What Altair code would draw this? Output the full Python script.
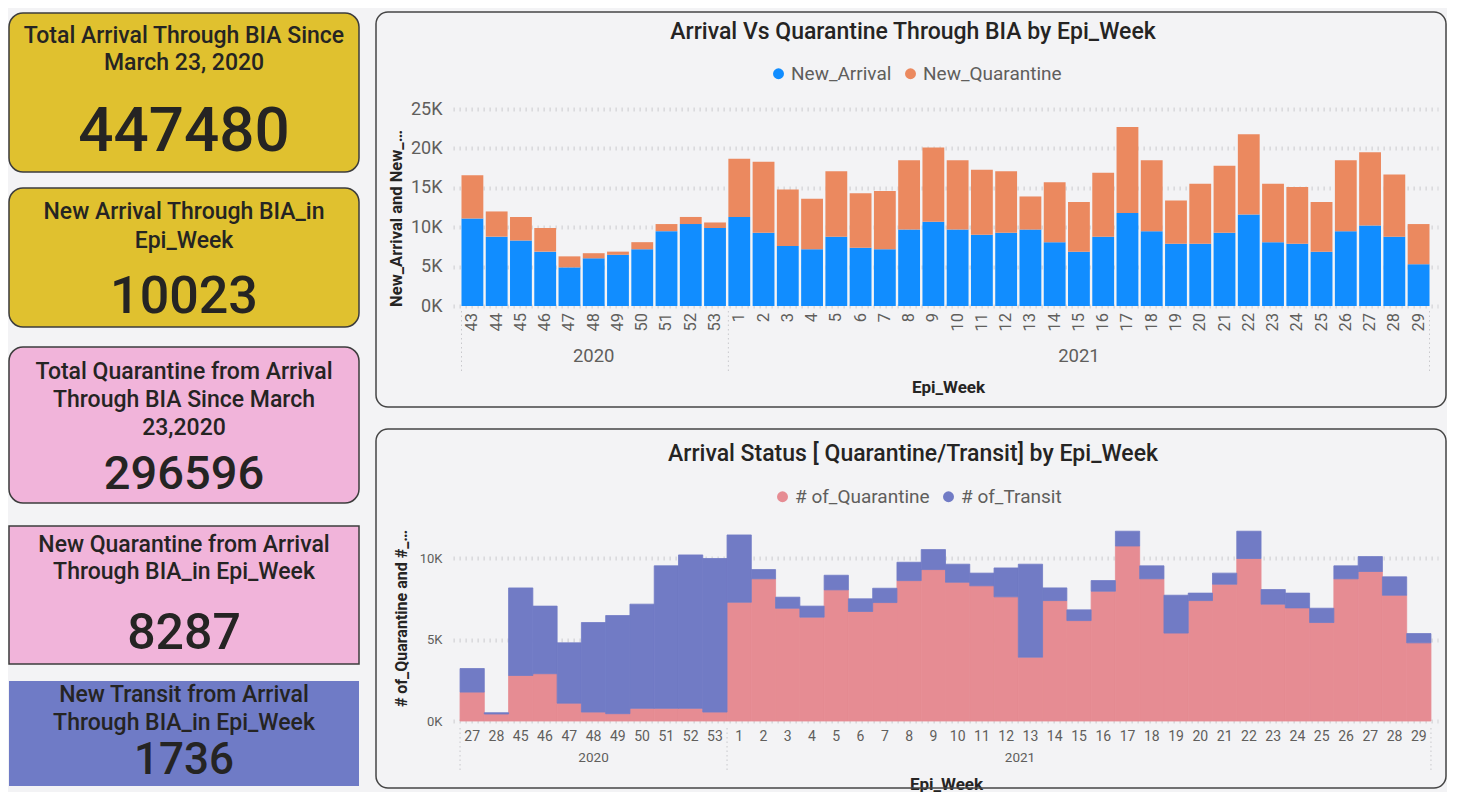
import altair as alt
import pandas as pd

FONT = "Roboto"
DARK = "#252423"
GREY = "#605E5C"
BG = "#F3F3F5"

# ---------------- KPI cards ----------------
card_titles = [
    "Total Arrival Through BIA Since\nMarch 23, 2020",
    "New Arrival Through BIA_in\nEpi_Week",
    "Total Quarantine from Arrival\nThrough BIA Since March\n23,2020",
    "New Quarantine from Arrival\nThrough BIA_in Epi_Week",
    "New Transit from Arrival\nThrough BIA_in Epi_Week",
]
card_values = ["447480", "10023", "296596", "8287", "1736"]

# ---------------- top chart data ----------------
top_years = ["2020"] * 11 + ["2021"] * 29
top_weeks = [43, 44, 45, 46, 47, 48, 49, 50, 51, 52, 53] + list(range(1, 30))
new_arrival = [11100, 8800, 8300, 6900, 4900, 6050, 6500, 7200, 9500, 10400, 9900,
               11300, 9300, 7600, 7200, 8800, 7400, 7200, 9700, 10700, 9700,
               9050, 9300, 9700, 8100, 6900, 8800, 11800, 9500, 7900, 7900,
               9300, 11600, 8100, 7900, 6900, 9500, 10200, 8800, 5300]
new_quarantine = [5500, 3200, 3000, 3000, 1400, 650, 400, 900, 900, 900, 700,
                  7400, 9000, 7200, 6400, 8300, 6900, 7400, 8800, 9400, 8800,
                  8250, 7800, 4200, 7600, 6300, 8100, 10900, 9000, 5500, 7600,
                  8500, 10200, 7400, 7200, 6300, 9000, 9300, 7900, 5100]
top_series = ["New_Arrival", "New_Quarantine"]
top_colors = ["#118DFF", "#EB895F"]

# ---------------- bottom chart data ----------------
bot_years = ["2020"] * 11 + ["2021"] * 29
bot_weeks = [27, 28, 45, 46, 47, 48, 49, 50, 51, 52, 53] + list(range(1, 30))
num_quarantine = [1780, 430, 2800, 2910, 1100, 550, 450, 780, 780, 780, 550,
                  7310, 8750, 6940, 6390, 8070, 6740, 7290, 8640, 9320, 8540,
                  8320, 7640, 3930, 7410, 6180, 7990, 10770, 8750, 5410, 7410,
                  8420, 10000, 7190, 6960, 6060, 8750, 9200, 7740, 4810]
num_transit = [1450, 80, 5390, 4160, 3710, 5510, 6040, 6410, 8770, 9440, 9450,
               4140, 570, 680, 680, 900, 780, 880, 1130, 1230, 1110,
               780, 1780, 5720, 780, 660, 650, 910, 800, 2330, 460,
               680, 1680, 900, 910, 880, 800, 920, 1130, 570]
bot_series = ["# of_Quarantine", "# of_Transit"]
bot_colors = ["#E68C93", "#717BC5"]

one_row = pd.DataFrame({"k": [0]})


def keys_of(years, weeks):
    return [f"{y}|{w}" for y, w in zip(years, weeks)]


def year_groups(years, keys):
    groups = {}
    for y, k in zip(years, keys):
        groups.setdefault(y, []).append(k)
    return groups


# ======================= CARDS (one layered canvas) =======================
# layout relative to the chart origin (aligned with the top plot area)
card_layout = [
    # y0, y1, fill, strokeWidth, radius, title_y, lineHeight, num_y, num_size
    (-96, 63, "#E0C12F", 1.5, 14, -84, 27, 23, 62),
    (79, 218, "#E0C12F", 1.5, 14, 92, 28.5, 188, 52),
    (238, 394, "#F1B4DA", 1.5, 14, 252, 28, 366, 47),
    (417, 555, "#F1B4DA", 1.5, 0, 424.5, 27.5, 525, 50),
    (572, 677, "#6F7BC6", 0, 0, 575, 28, 652, 44),
]
CARD_H = 677
card_layers = []
for i, (y0, y1, fill, sw, rad, ty, lh, ny, ns) in enumerate(card_layout):
    df = pd.DataFrame({"title": [card_titles[i]], "value": [card_values[i]]})
    base = alt.Chart(df)
    card_layers.append(base.mark_rect(fill=fill, stroke="#3C3C3C", strokeWidth=sw,
                                      cornerRadius=rad).encode(
        x=alt.value(1), x2=alt.value(351), y=alt.value(y0), y2=alt.value(y1)))
    card_layers.append(base.mark_text(fontSize=23, fontWeight=500, color=DARK,
                                      align="center", baseline="top", lineBreak="\n",
                                      lineHeight=lh).encode(
        text="title:N", x=alt.value(176), y=alt.value(ty)))
    card_layers.append(base.mark_text(fontSize=ns, fontWeight=500, color=DARK,
                                      align="center", baseline="middle").encode(
        text="value:N", x=alt.value(176), y=alt.value(ny)))

cards_chart = alt.layer(*card_layers).properties(width=351, height=CARD_H)

# ======================= TOP CHART =======================
W, H1, H2 = 985, 197, 195
top_keys = keys_of(top_years, top_weeks)
top_df = pd.DataFrame({
    "key": top_keys * 2,
    "series1": [top_series[0]] * len(top_keys) + [top_series[1]] * len(top_keys),
    "value": new_arrival + new_quarantine,
    "ord": [0] * len(top_keys) + [1] * len(top_keys),
})
top_week_df = pd.DataFrame({"key": top_keys, "week": [str(w) for w in top_weeks]})
tg = year_groups(top_years, top_keys)
top_year_df = pd.DataFrame({"key": [v[len(v) // 2] for v in tg.values()],
                            "label": list(tg.keys())})
top_sep_start = pd.DataFrame({"key": [v[0] for v in tg.values()]})
top_sep_end = pd.DataFrame({"key": [top_keys[-1]]})

grid_kw = dict(grid=True, gridDash=[1.3, 4.7], gridWidth=4, gridColor="#D4D4D8")

top_x_scale = alt.Scale(paddingInner=0.1, paddingOuter=0.35)
top_x_axis = alt.Axis(labels=False, domain=False, ticks=False, grid=False,
                      titleX=495, titleY=81, titleAlign="center",
                      titleBaseline="middle", titleFontSize=17,
                      titleFontWeight="bold", titleColor=DARK)


def top_x(axis=None, **kw):
    if axis is None:
        return alt.X("key:N", sort=top_keys, scale=top_x_scale, axis=None, **kw)
    return alt.X("key:N", sort=top_keys, scale=top_x_scale, title="Epi_Week",
                 axis=axis, **kw)


top_panel = alt.Chart(one_row).mark_rect(
    fillOpacity=0, stroke="#454545", strokeWidth=1.5, cornerRadius=12).encode(
    x=alt.value(-77), x2=alt.value(993), y=alt.value(-97), y2=alt.value(298))

top_title = alt.Chart(one_row).mark_text(
    text="Arrival Vs Quarantine Through BIA by Epi_Week", fontSize=23, fontWeight=500,
    color=DARK, align="center", baseline="middle").encode(
    x=alt.value(460), y=alt.value(-77))

top_bars = alt.Chart(top_df).mark_bar().encode(
    x=top_x(top_x_axis),
    y=alt.Y("value:Q", stack="zero",
            scale=alt.Scale(domain=[0, 25000], nice=False),
            title="New_Arrival and New_…",
            axis=alt.Axis(values=[0, 5000, 10000, 15000, 20000, 25000],
                          labelExpr="datum.value / 1000 + 'K'", labelFontSize=18,
                          labelColor=GREY, labelPadding=11, domain=False, ticks=False,
                          titleAngle=270, titleX=-57, titleY=109, titleAlign="center",
                          titleBaseline="middle", titleFontSize=16.5,
                          titleFontWeight="bold", titleColor=DARK, **grid_kw)),
    color=alt.Color("series1:N", scale=alt.Scale(domain=top_series, range=top_colors),
                    legend=alt.Legend(orient="none", legendX=316, legendY=-45,
                                      direction="horizontal", title=None,
                                      symbolType="circle", symbolSize=120,
                                      symbolStrokeWidth=0, labelFontSize=19,
                                      labelColor=GREY, labelOffset=3,
                                      columnPadding=9, padding=0)),
    order=alt.Order("ord:Q"),
)

# rotated week labels (read bottom-to-top, ending next to the plot)
top_week_txt = alt.Chart(top_week_df).mark_text(
    fontSize=16.5, color=GREY, angle=270, align="right", baseline="middle").encode(
    x=top_x(), y=alt.value(H1 + 7), text="week:N")

top_years_txt = alt.Chart(top_year_df).mark_text(
    fontSize=18.5, color=GREY, align="center", baseline="middle").encode(
    x=top_x(), y=alt.value(247), text="label:N")

sep_kw = dict(color="#C8C8CC", strokeDash=[1.5, 3], strokeWidth=1)
top_sep1 = alt.Chart(top_sep_start).mark_rule(**sep_kw).encode(
    x=top_x(bandPosition=0), y=alt.value(202), y2=alt.value(264))
top_sep2 = alt.Chart(top_sep_end).mark_rule(**sep_kw).encode(
    x=top_x(bandPosition=1), y=alt.value(202), y2=alt.value(264))

top_chart = alt.layer(top_panel, top_title, top_bars, top_week_txt, top_years_txt,
                      top_sep1, top_sep2).resolve_axis(x="independent").properties(
    width=W, height=H1)

# ======================= BOTTOM CHART =======================
bot_keys = keys_of(bot_years, bot_weeks)
bot_df = pd.DataFrame({
    "key2": bot_keys * 2,
    "series2": [bot_series[0]] * len(bot_keys) + [bot_series[1]] * len(bot_keys),
    "value": num_quarantine + num_transit,
    "ord": [0] * len(bot_keys) + [1] * len(bot_keys),
})
bg_ = year_groups(bot_years, bot_keys)
bot_year_df = pd.DataFrame({"key2": [v[len(v) // 2] for v in bg_.values()],
                            "label": list(bg_.keys())})
bot_sep_start = pd.DataFrame({"key2": [v[0] for v in bg_.values()]})
bot_sep_end = pd.DataFrame({"key2": [bot_keys[-1]]})

bot_x_scale = alt.Scale(paddingInner=0, paddingOuter=0.29)
bot_x_axis = alt.Axis(labelExpr="split(datum.label, '|')[1]", labelAngle=0,
                      labelFontSize=14, labelColor=GREY, labelPadding=8,
                      labelOverlap=False, domain=False, ticks=False, grid=False,
                      titleX=493, titleY=63, titleAlign="center",
                      titleBaseline="middle", titleFontSize=17,
                      titleFontWeight="bold", titleColor=DARK)


def bot_x(axis=None, **kw):
    if axis is None:
        return alt.X("key2:N", sort=bot_keys, scale=bot_x_scale, axis=None, **kw)
    return alt.X("key2:N", sort=bot_keys, scale=bot_x_scale, title="Epi_Week",
                 axis=axis, **kw)


bot_panel = alt.Chart(one_row).mark_rect(
    fillOpacity=0, stroke="#454545", strokeWidth=1.5, cornerRadius=12).encode(
    x=alt.value(-77), x2=alt.value(993), y=alt.value(-97), y2=alt.value(262))

bot_title = alt.Chart(one_row).mark_text(
    text="Arrival Status [ Quarantine/Transit] by Epi_Week", fontSize=23,
    fontWeight=500, color=DARK, align="center", baseline="middle").encode(
    x=alt.value(460), y=alt.value(-72))

bot_scale = alt.Scale(domain=bot_series, range=bot_colors)
bot_bars = alt.Chart(bot_df).mark_bar(strokeWidth=0.8).encode(
    x=bot_x(bot_x_axis),
    y=alt.Y("value:Q", stack="zero",
            scale=alt.Scale(domain=[0, 12000], nice=False),
            title="# of_Quarantine and #_…",
            axis=alt.Axis(values=[0, 5000, 10000],
                          labelExpr="datum.value / 1000 + 'K'", labelFontSize=13,
                          labelColor=GREY, labelPadding=11, domain=False, ticks=False,
                          titleAngle=270, titleX=-52, titleY=92, titleAlign="center",
                          titleBaseline="middle", titleFontSize=16,
                          titleFontWeight="bold", titleColor=DARK, **grid_kw)),
    color=alt.Color("series2:N", scale=bot_scale,
                    legend=alt.Legend(orient="none", legendX=320, legendY=-39,
                                      direction="horizontal", title=None,
                                      symbolType="circle", symbolSize=120,
                                      symbolStrokeWidth=0, labelFontSize=19,
                                      labelColor=GREY, labelOffset=3,
                                      columnPadding=9, padding=0)),
    stroke=alt.Stroke("series2:N", scale=bot_scale, legend=None),
    order=alt.Order("ord:Q"),
)

bot_years_a = alt.Chart(bot_year_df.iloc[:1]).mark_text(
    fontSize=13.5, color=GREY, align="center", baseline="middle").encode(
    x=bot_x(), y=alt.value(232), text="label:N")
bot_years_b = alt.Chart(bot_year_df.iloc[1:]).mark_text(
    fontSize=13.5, color=GREY, align="center", baseline="middle", dx=-59).encode(
    x=bot_x(), y=alt.value(232), text="label:N")

bot_sep1 = alt.Chart(bot_sep_start).mark_rule(**sep_kw).encode(
    x=bot_x(bandPosition=0), y=alt.value(202), y2=alt.value(247))
bot_sep2 = alt.Chart(bot_sep_end).mark_rule(**sep_kw).encode(
    x=bot_x(bandPosition=1), y=alt.value(202), y2=alt.value(247))

bot_chart = alt.layer(bot_panel, bot_title, bot_bars, bot_years_a, bot_years_b,
                      bot_sep1, bot_sep2).resolve_axis(x="independent").properties(
    width=W, height=H2)

right_col = alt.vconcat(top_chart, bot_chart, spacing=20).resolve_scale(
    color="independent", stroke="independent", x="independent", y="independent")

chart = alt.hconcat(cards_chart, right_col, spacing=15).resolve_scale(
    color="independent").properties(
    padding={"left": 0, "top": 3, "right": 0, "bottom": 0},
    background=BG,
).configure(font=FONT).configure_view(strokeWidth=0)

chart.save("out.html", embed_options={"renderer": "svg", "actions": False})
